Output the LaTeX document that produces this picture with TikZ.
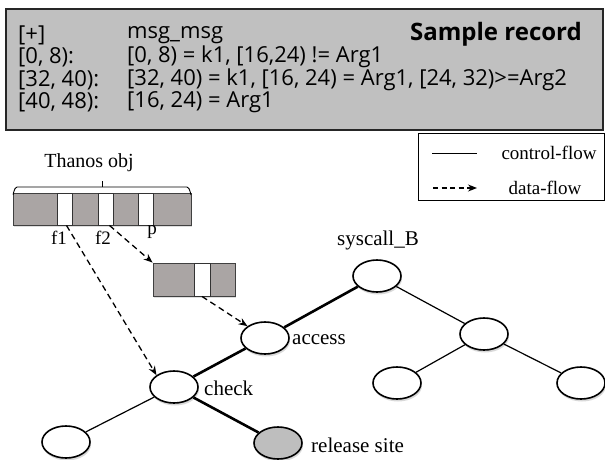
\documentclass[tikz,border=0pt]{standalone}
\usepackage{fontspec}
\setmainfont{Liberation Serif}
\newfontfamily\recfont{Open Sans}
\usetikzlibrary{arrows.meta,positioning,shapes.geometric,shadows}
\definecolor{recgray}{RGB}{192,192,192}
\definecolor{objgray}{RGB}{170,165,164}
\definecolor{relgray}{RGB}{190,190,190}

\begin{document}
\begin{tikzpicture}[x=1pt,y=-1pt,
  fn/.style={draw,line width=1.6pt,ellipse,fill=white,minimum width=48pt,minimum height=32pt,inner sep=0pt,
    drop shadow={opacity=0.3,shadow xshift=1pt,shadow yshift=-2.5pt}},
  cf/.style={line width=1.2pt},
  hot/.style={line width=2.6pt},
  df/.style={dash pattern=on 6pt off 4pt,line width=1.3pt,-{Stealth[length=9pt,width=7pt]}},
  objbox/.style={draw=black!75,line width=0.9pt,fill=objgray,inner sep=0pt,
    drop shadow={opacity=0.25,shadow xshift=0.5pt,shadow yshift=-1.5pt}},
  slot/.style={draw=black!80,line width=0.9pt,fill=white,inner sep=0pt,minimum width=15pt,minimum height=32pt},
  lbl/.style={font=\fontsize{21}{21}\selectfont,inner sep=0pt},
  small/.style={font=\fontsize{19}{19}\selectfont,inner sep=0pt},
  rec/.style={font=\recfont\fontsize{22}{22}\selectfont,anchor=west,inner sep=0pt}]
  \useasboundingbox (0,0) rectangle (605,460);

  % sample record
  \draw[line width=1.8pt,draw=black!85,fill=recgray] (6,9) rectangle (603,130);
  \node[rec] (r0a) at (18,35) {[+]};
  \node[rec] (r0b) at (127,35) {msg\_msg};
  \node[rec,anchor=east,font=\recfont\bfseries\fontsize{24}{24}\selectfont] (title) at (582,34) {Sample record};
  \node[rec] (r1a) at (18,57) {[0, 8):};
  \node[rec] (r1b) at (127,57) {[0, 8) = k1, [16,24) != Arg1};
  \node[rec] (r2a) at (18,80) {[32, 40):};
  \node[rec] (r2b) at (127,80) {[32, 40) = k1, [16, 24) = Arg1, [24, 32)>=Arg2};
  \node[rec] (r3a) at (18,102) {[40, 48):};
  \node[rec] (r3b) at (127,102) {[16, 24) = Arg1};

  % legend
  \draw[line width=1pt] (418,133) rectangle (604,200);
  \coordinate (cfa) at (432,153); \coordinate (cfb) at (477,153);
  \coordinate (dfa) at (433,188); \coordinate (dfb) at (477,188);
  \draw[line width=1pt] (cfa) -- (cfb);
  \draw[df,dash pattern=on 5pt off 3.5pt] (dfa) -- (dfb);
  \node[small] (cflbl) at (549,153) {control-flow};
  \node[small] (dflbl) at (545,188) {data-flow};

  % thanos object
  \node[objbox,minimum width=178pt,minimum height=32pt] (obj) at (102,209) {};
  \node[slot] (f1slot) at (64.5,209) {};
  \node[slot] (f2slot) at (105.5,209) {};
  \node[slot] (pslot) at (145.5,209) {};
  \draw[line width=0.9pt] (13,194) to[out=-90,in=180] (17,187) -- (187,187) to[out=0,in=-90] (191,194);
  \draw[line width=0.9pt] (102,187) -- (102,181);
  \node[small,font=\fontsize{20}{20}\selectfont] (thanos) at (89,163) {Thanos obj};
  \node[small] (f1) at (59,238) {f1};
  \node[small] (f2) at (103,238) {f2};
  \node[small] (p) at (152,232) {p};

  \node[objbox,minimum width=82pt,minimum height=33pt] (tbox) at (194,279.5) {};
  \node[slot,minimum width=16pt,minimum height=33pt] (tslot) at (202,279.5) {};

  % call tree
  \node[fn] (sysB) at (377,276) {};
  \node[fn] (acc) at (265,338) {};
  \node[fn] (chk) at (174,387) {};
  \node[fn] (leafL) at (66,442) {};
  \node[fn,fill=relgray] (rel) at (278,443) {};
  \node[fn] (midR) at (484,334) {};
  \node[fn] (leafRL) at (397,383) {};
  \node[fn] (leafRR) at (581,383) {};

  \draw[hot] (sysB) -- (acc);
  \draw[hot] (acc) -- (chk);
  \draw[hot] (chk) -- (rel);
  \draw[cf] (chk) -- (leafL);
  \draw[cf] (sysB) -- (midR);
  \draw[cf] (midR) -- (leafRL);
  \draw[cf] (midR) -- (leafRR);

  \node[lbl] (sysBlbl) at (378,240) {syscall\_B};
  \node[lbl,anchor=west] (acclbl) at (292,340) {access};
  \node[lbl,anchor=west] (chklbl) at (204,388) {check};
  \node[lbl,anchor=west] (rellbl) at (311,445) {release site};

  % data flow
  \draw[df] (f1slot.south) ++(2,0) coordinate (f1out) (f1out) -- (chk.north west);
  \draw[df] (f2slot.south) ++(4,0) coordinate (f2out) (f2out) -- (tbox.north west);
  \draw[df] (tslot.south) -- (acc.north west);
\end{tikzpicture}
\end{document}
